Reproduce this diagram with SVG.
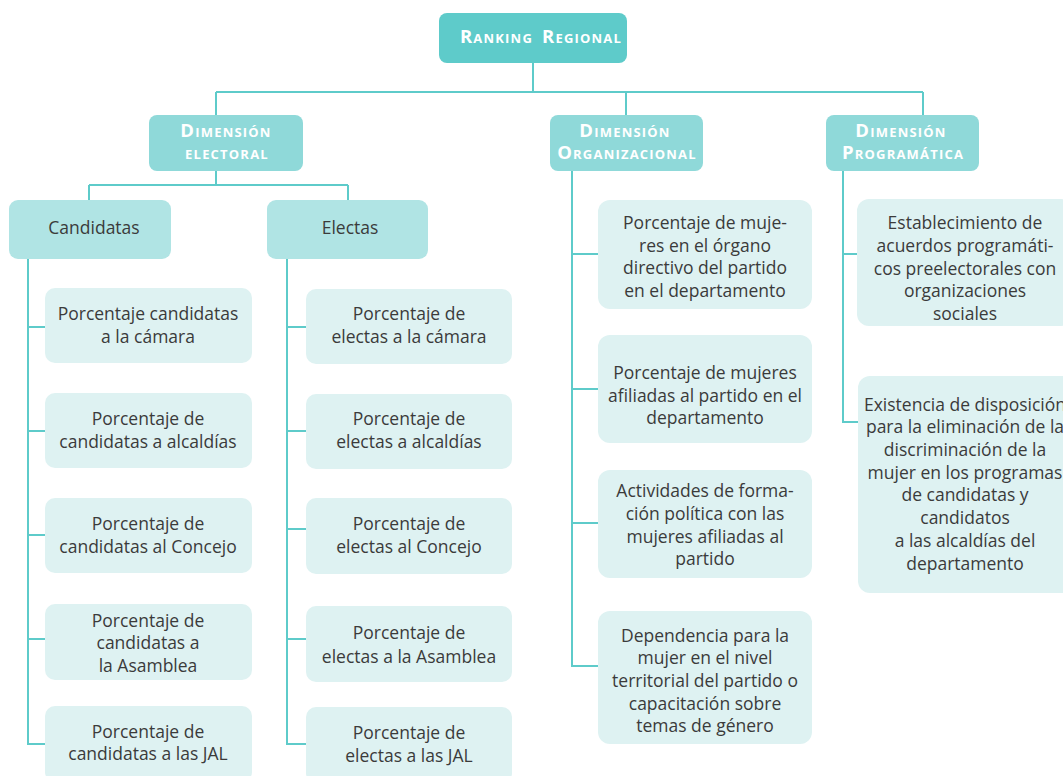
<svg xmlns="http://www.w3.org/2000/svg" width="1063" height="776" viewBox="0 0 1063 776">
<style>
.root{fill:#5ecbca}
.dim{fill:#8fd9d9}
.sub{fill:#b0e4e4}
.item{fill:#def2f2}
.hd{font-family:"Open Sans","Liberation Sans",sans-serif;font-weight:700;font-size:18.5px;font-variant:small-caps;letter-spacing:1.2px;fill:#ffffff;text-anchor:middle}
.tx{font-family:"Open Sans","Liberation Sans",sans-serif;font-size:17.5px;fill:#3b3b3b;text-anchor:middle}
.ln{fill:none;stroke:#5ecbca;stroke-width:2}
</style>
<rect width="1063" height="776" fill="#ffffff"/>
<g id="connectors">
<path class="ln" d="M533 63V92M216 92H923M216 92V115M626 92V115M923 92V115"/>
<path class="ln" d="M216 171V185M89 185H348M89 185V200M348 185V200"/>
<path class="ln" d="M28 259V744H45M28 327H45M28 431H45M28 535H45M28 639H45"/>
<path class="ln" d="M287 259V744H306M287 327H306M287 431H306M287 529H306M287 639H306"/>
<path class="ln" d="M572 171V666H598M572 254H598M572 389H598M572 523H598"/>
<path class="ln" d="M843 171V422H858M843 254H857"/>
</g>
<g id="root"><rect class="root" x="439" y="13" width="188" height="50" rx="8"/><text class="hd" x="541" y="43.3" word-spacing="3">Ranking Regional</text></g>
<g id="dim-electoral"><rect class="dim" x="149" y="115" width="154" height="56" rx="8"/><text class="hd" x="226" y="136.7">Dimensión</text><text class="hd" x="227" y="159.3">electoral</text></g>
<g id="dim-organizacional"><rect class="dim" x="550" y="115" width="153" height="56" rx="8"/><text class="hd" x="625" y="136.5">Dimensión</text><text class="hd" x="627" y="159.3">Organizacional</text></g>
<g id="dim-programatica"><rect class="dim" x="826" y="115" width="153" height="56" rx="8"/><text class="hd" x="901" y="136.5">Dimensión</text><text class="hd" x="903" y="159.3">Programática</text></g>
<g id="candidatas"><rect class="sub" x="9" y="200" width="162" height="59" rx="9"/><text class="tx" x="94" y="234">Candidatas</text></g>
<g id="electas"><rect class="sub" x="267" y="200" width="161" height="59" rx="9"/><text class="tx" x="350" y="234">Electas</text></g>
<g id="cand-camara"><rect class="item" x="45" y="288" width="207" height="75" rx="10"/><text class="tx" x="148" y="320">Porcentaje candidatas</text><text class="tx" x="148" y="342.7">a la cámara</text></g>
<g id="cand-alcaldias"><rect class="item" x="45" y="393" width="207" height="75" rx="10"/><text class="tx" x="148" y="424.5">Porcentaje de</text><text class="tx" x="148" y="447.5">candidatas a alcaldías</text></g>
<g id="cand-concejo"><rect class="item" x="45" y="498" width="207" height="75" rx="10"/><text class="tx" x="148" y="529.5">Porcentaje de</text><text class="tx" x="148" y="552.5">candidatas al Concejo</text></g>
<g id="cand-asamblea"><rect class="item" x="45" y="604" width="207" height="76" rx="10"/><text class="tx" x="148" y="626.5">Porcentaje de</text><text class="tx" x="148" y="649.3">candidatas a</text><text class="tx" x="148" y="672">la Asamblea</text></g>
<g id="cand-jal"><rect class="item" x="45" y="706" width="207" height="76" rx="10"/><text class="tx" x="148" y="737.5">Porcentaje de</text><text class="tx" x="148" y="760.2">candidatas a las JAL</text></g>
<g id="elec-camara"><rect class="item" x="306" y="289" width="206" height="75" rx="10"/><text class="tx" x="409" y="320">Porcentaje de</text><text class="tx" x="409" y="342.7">electas a la cámara</text></g>
<g id="elec-alcaldias"><rect class="item" x="306" y="394" width="206" height="75" rx="10"/><text class="tx" x="409" y="424.5">Porcentaje de</text><text class="tx" x="409" y="447.5">electas a alcaldías</text></g>
<g id="elec-concejo"><rect class="item" x="306" y="498" width="206" height="76" rx="10"/><text class="tx" x="409" y="529.5">Porcentaje de</text><text class="tx" x="409" y="552.5">electas al Concejo</text></g>
<g id="elec-asamblea"><rect class="item" x="306" y="606" width="206" height="76" rx="10"/><text class="tx" x="409" y="639.3">Porcentaje de</text><text class="tx" x="409" y="662.5">electas a la Asamblea</text></g>
<g id="elec-jal"><rect class="item" x="306" y="707" width="206" height="76" rx="10"/><text class="tx" x="409" y="739.3">Porcentaje de</text><text class="tx" x="409" y="762">electas a las JAL</text></g>
<g id="org-organo"><rect class="item" x="598" y="200" width="214" height="109" rx="12"/><text class="tx" x="705" y="229">Porcentaje de muje-</text><text class="tx" x="705" y="251.7">res en el órgano</text><text class="tx" x="705" y="274.4">directivo del partido</text><text class="tx" x="705" y="297">en el departamento</text></g>
<g id="org-afiliadas"><rect class="item" x="598" y="335" width="214" height="108" rx="12"/><text class="tx" x="705" y="379">Porcentaje de mujeres</text><text class="tx" x="705" y="401.7">afiliadas al partido en el</text><text class="tx" x="705" y="424.3">departamento</text></g>
<g id="org-formacion"><rect class="item" x="598" y="470" width="214" height="108" rx="12"/><text class="tx" x="705" y="497.3">Actividades de forma-</text><text class="tx" x="705" y="520">ción política con las</text><text class="tx" x="705" y="542.5">mujeres afiliadas al</text><text class="tx" x="705" y="565">partido</text></g>
<g id="org-dependencia"><rect class="item" x="598" y="611" width="214" height="133" rx="12"/><text class="tx" x="705" y="641.7">Dependencia para la</text><text class="tx" x="705" y="664.4">mujer en el nivel</text><text class="tx" x="705" y="687">territorial del partido o</text><text class="tx" x="705" y="709.5">capacitación sobre</text><text class="tx" x="705" y="732.3">temas de género</text></g>
<g id="prog-acuerdos"><rect class="item" x="857" y="199" width="216" height="127" rx="12"/><text class="tx" x="965" y="229">Establecimiento de</text><text class="tx" x="965" y="251.8">acuerdos programáti-</text><text class="tx" x="965" y="274.6">cos preelectorales con</text><text class="tx" x="965" y="297.4">organizaciones</text><text class="tx" x="965" y="320">sociales</text></g>
<g id="prog-disposicion"><rect class="item" x="858" y="376" width="216" height="217" rx="12"/><text class="tx" x="965" y="410.6">Existencia de disposición</text><text class="tx" x="965" y="433.3">para la eliminación de la</text><text class="tx" x="965" y="456">discriminación de la</text><text class="tx" x="965" y="478.7">mujer en los programas</text><text class="tx" x="965" y="501.4">de candidatas y</text><text class="tx" x="965" y="524.1">candidatos</text><text class="tx" x="965" y="546.8">a las alcaldías del</text><text class="tx" x="965" y="569.5">departamento</text></g>
</svg>
